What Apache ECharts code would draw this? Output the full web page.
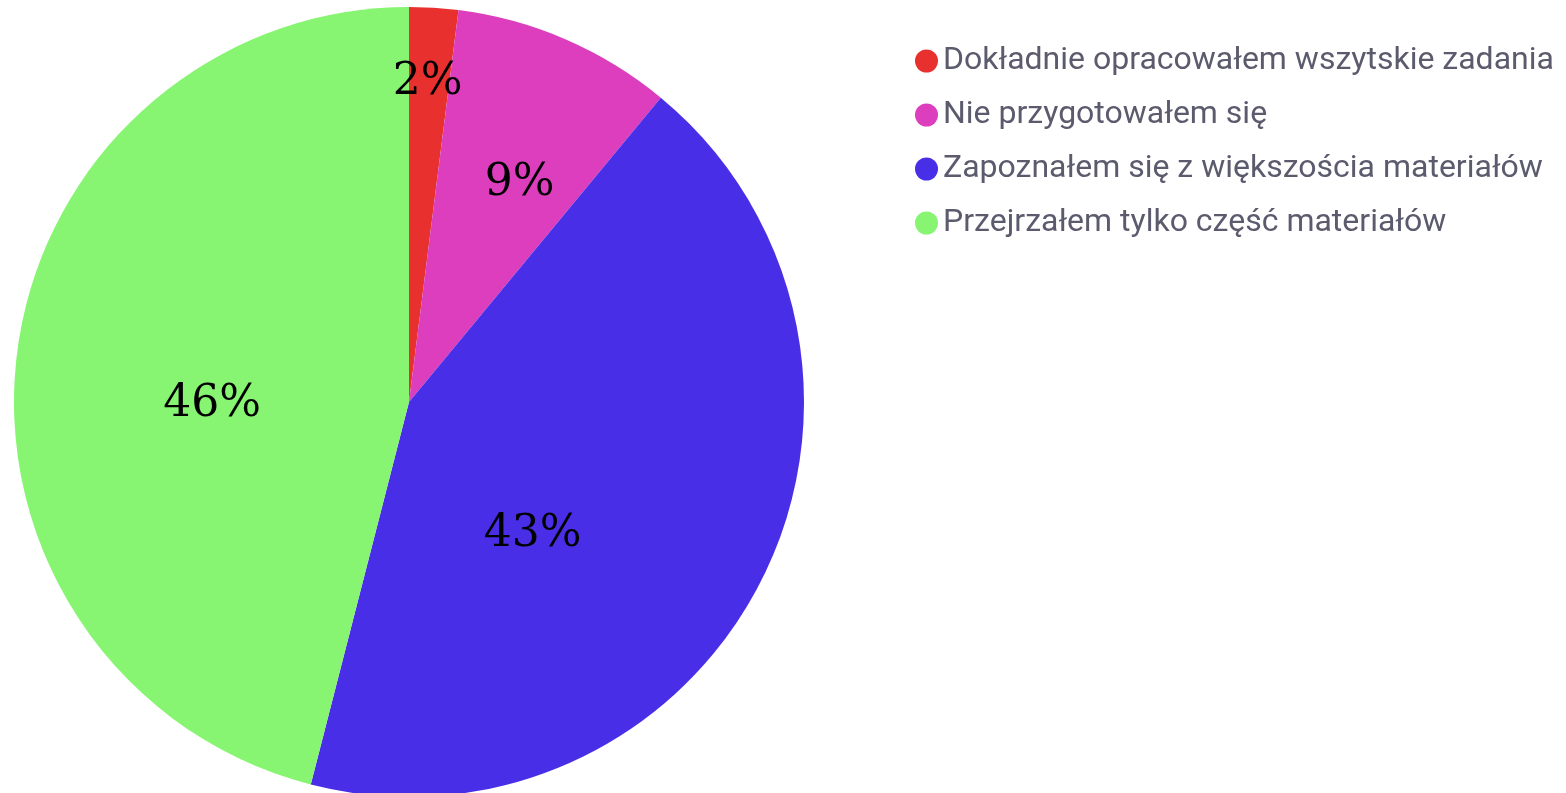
<!DOCTYPE html>
<html>
<head>
<meta charset="utf-8">
<script src="https://cdn.jsdelivr.net/npm/echarts@6/dist/echarts.min.js"></script>
<style>
html,body{margin:0;padding:0;background:#fff;}
#chart{width:1566px;height:793px;}
</style>
</head>
<body>
<div id="chart"></div>
<script>
const categories = [
  'Dokładnie opracowałem wszytskie zadania',
  'Nie przygotowałem się',
  'Zapoznałem się z większościa materiałów',
  'Przejrzałem tylko część materiałów'
];
const values = [2, 9, 43, 46];

// styling (not data)
const colors = ['#E8302F', '#DC3EBE', '#482FE7', '#87F472'];
const labelOffsets = [[6, -119], [31, -34], [-55, 42], [2, 28]];

const total = values.reduce((a, b) => a + b, 0);
const seriesData = categories.map((name, i) => ({
  name: name,
  value: values[i],
  itemStyle: { color: colors[i] },
  label: { offset: labelOffsets[i] }
}));

const chart = echarts.init(document.getElementById('chart'), null, { renderer: 'canvas' });
chart.setOption({
  animation: false,
  backgroundColor: '#ffffff',
  legend: {
    orient: 'vertical',
    left: 910,
    top: 38,
    icon: 'circle',
    itemWidth: 23,
    itemHeight: 23,
    itemGap: 18,
    textStyle: {
      fontFamily: 'Roboto',
      fontSize: 32,
      color: '#5c5b6e',
      lineHeight: 36
    },
    data: categories
  },
  series: [{
    type: 'pie',
    center: [409, 402],
    radius: [0, 395],
    startAngle: 90,
    clockwise: true,
    silent: true,
    itemStyle: { borderWidth: 0 },
    label: {
      show: true,
      position: 'inside',
      fontFamily: 'DejaVu Serif',
      fontSize: 44,
      color: '#000',
      formatter: p => Math.round(p.value / total * 100) + '%'
    },
    labelLine: { show: false },
    data: seriesData
  }]
});
</script>
</body>
</html>
